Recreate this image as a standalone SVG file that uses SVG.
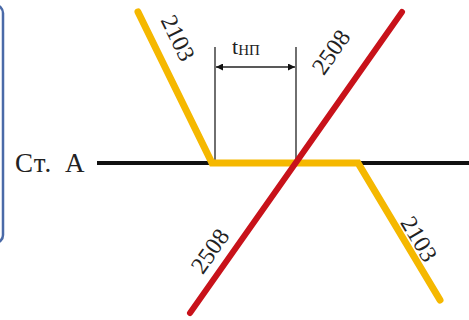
<svg xmlns="http://www.w3.org/2000/svg" width="469" height="320" viewBox="0 0 469 320">
  <defs>
    <style>
      .lbl { font-family: "Liberation Serif", "Times New Roman", serif; fill: #222; }
      .num { font-size: 24px; }
      .dim { stroke: #222; stroke-width: 1.3; fill: none; }
    </style>
    <marker id="arr" viewBox="0 0 10 10" refX="10" refY="5" markerWidth="9" markerHeight="7" markerUnits="userSpaceOnUse" orient="auto-start-reverse">
      <path d="M0,0 L10,5 L0,10 z" fill="#111"/>
    </marker>
  </defs>
  <rect x="0" y="0" width="469" height="320" fill="#fff"/>
  <rect x="-20" y="5" width="23" height="238" rx="8" fill="none" stroke="#4a6aa8" stroke-width="2.5"/>

  <g id="station">
    <text class="lbl" x="15" y="172" font-size="27" word-spacing="5" letter-spacing="1">Ст. А</text>
    <line x1="97" y1="163" x2="469" y2="163" stroke="#111" stroke-width="4"/>
  </g>

  <g id="connectors">
    <g id="dimension">
      <line class="dim" x1="215" y1="47" x2="215" y2="163"/>
      <line class="dim" x1="296" y1="47" x2="296" y2="163"/>
      <line class="dim" x1="216" y1="67" x2="295" y2="67" marker-start="url(#arr)" marker-end="url(#arr)"/>
      <text class="lbl" x="232" y="54" font-size="22">t<tspan font-size="15" dy="1">НП</tspan></text>
    </g>
  </g>

  <g id="train2103">
    <polyline points="138,12 212,163 358,163 440,300" fill="none" stroke="#f5b800" stroke-width="7" stroke-linecap="round" stroke-linejoin="miter"/>
    <text class="lbl num" x="0" y="0" text-anchor="middle" dominant-baseline="central" transform="translate(178,38) rotate(64)">2103</text>
    <text class="lbl num" x="0" y="0" text-anchor="middle" dominant-baseline="central" transform="translate(419,239) rotate(59)">2103</text>
  </g>

  <g id="train2508">
    <line x1="402" y1="12" x2="190" y2="313" stroke="#c8121a" stroke-width="6" stroke-linecap="round"/>
    <text class="lbl num" x="0" y="0" text-anchor="middle" dominant-baseline="central" transform="translate(331,52) rotate(-55)">2508</text>
    <text class="lbl num" x="0" y="0" text-anchor="middle" dominant-baseline="central" transform="translate(210,251) rotate(-55)">2508</text>
  </g>
</svg>
